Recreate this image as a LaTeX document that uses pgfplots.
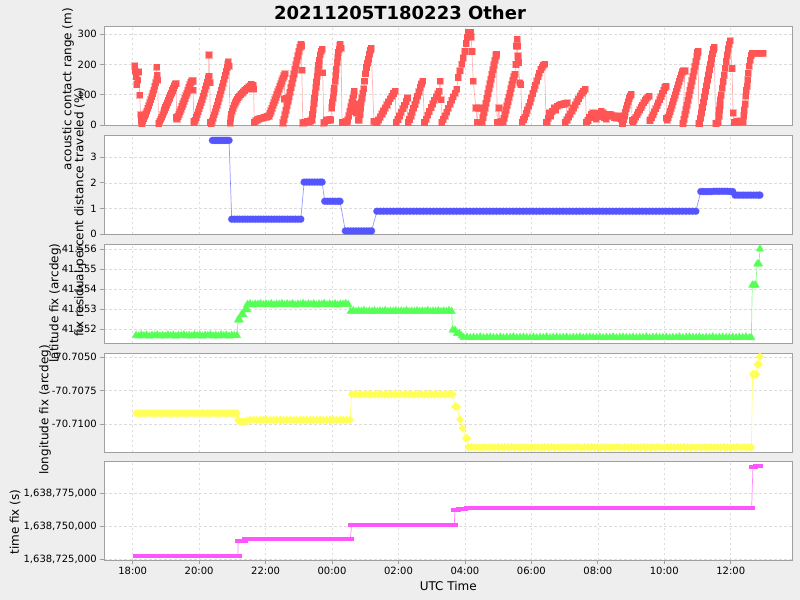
\documentclass[border=0pt]{standalone}
\usepackage{pgfplots}
\pgfplotsset{compat=1.18}
\usepackage{fontspec}
\setmainfont{DejaVu Sans}

\definecolor{bgc}{HTML}{EEEEEE}
\definecolor{framec}{HTML}{A0A0A0}
\definecolor{gridc}{HTML}{DCDCDC}
\definecolor{sred}{HTML}{FF5555}
\definecolor{sblue}{HTML}{5555FF}
\definecolor{sgreen}{HTML}{55FF55}
\definecolor{syellow}{HTML}{FFFF55}
\definecolor{smag}{HTML}{FF55FF}

% flat rectangle marker for the last series
\pgfdeclareplotmark{hrect}{\pgfpathrectangle{\pgfpoint{-3.5bp}{-2bp}}{\pgfpoint{7bp}{4bp}}\pgfusepathqfill}

\newcommand\ticksz{\fontsize{10bp}{12bp}\selectfont}
\newcommand\labsz{\fontsize{12bp}{14bp}\selectfont}

\pgfplotsset{
  panel/.style={
    scale only axis, width=688bp, height=98.5bp, anchor=north west,
    xmin=17.145, xmax=37.854,
    xtick={18,20,22,24,26,28,30,32,34,36},
    xticklabels={},
    xtick style={draw=none},
    ytick pos=left,
    tick align=outside,
    major tick length=4bp,
    axis line style={draw=framec, line width=0.8bp},
    ytick style={draw=framec, line width=0.8bp},
    grid=major,
    major grid style={draw=gridc, dash pattern=on 2.5bp off 2.5bp, line width=0.6bp},
    axis background/.style={fill=white},
    tick label style={font=\ticksz, text=black},
    label style={font=\labsz},
    every axis plot/.append style={line width=0.7bp},
  },
}

\begin{document}
\begin{tikzpicture}
\fill[bgc] (0,0) rectangle (800bp,-600bp);
\node[font=\bfseries\fontsize{18bp}{20bp}\selectfont, inner sep=0pt] at (400bp,-12.5bp) {20211205T180223 Other};

% acoustic contact range
\begin{axis}[panel, at={(104.3bp,-26.5bp)},
  ymin=0, ymax=326, ytick={0,100,200,300}, yticklabels={0,100,200,300},
  ylabel={acoustic contact range (m)},
  ylabel style={at={(axis description cs:-0.0528,0.365)}, anchor=center}]
\addplot[sred, draw opacity=0.45, mark=square*, mark size=3.1bp, mark options={draw=none, fill=sred}] coordinates {
(18.06,196) (18.08,178) (18.10,160) (18.12,134) (18.15,148) (18.18,176) (18.21,98) (18.24,34) (18.26,12)
(18.27,5) (18.30,13) (18.33,21) (18.36,29) (18.39,37) (18.42,46) (18.45,55) (18.48,64) (18.51,74) (18.54,84)
(18.57,94) (18.60,104) (18.63,116) (18.66,128) (18.69,140) (18.72,152) (18.72,192) (18.73,164) (18.75,148)
(18.78,5) (18.81,12) (18.84,19) (18.87,26) (18.90,34) (18.93,42) (18.96,50) (18.99,58) (19.02,66) (19.05,74)
(19.08,82) (19.11,90) (19.14,98) (19.17,106) (19.20,114) (19.23,122) (19.26,130) (19.29,137) (19.31,137) (19.32,25)
(19.33,20) (19.36,28) (19.39,36) (19.42,44) (19.45,52) (19.48,61) (19.51,70) (19.54,79) (19.57,88) (19.60,97)
(19.63,106) (19.66,115) (19.69,124) (19.72,133) (19.75,141) (19.78,146) (19.81,146) (19.82,116) (19.84,12)
(19.85,8) (19.88,16) (19.91,25) (19.94,34) (19.97,44) (20.00,54) (20.03,64) (20.06,74) (20.09,84) (20.12,95)
(20.15,106) (20.18,118) (20.21,130) (20.24,142) (20.27,154) (20.29,162) (20.29,232) (20.32,140) (20.34,8)
(20.36,5) (20.39,14) (20.42,24) (20.45,34) (20.48,44) (20.51,55) (20.54,66) (20.57,78) (20.60,90) (20.63,102)
(20.66,114) (20.69,126) (20.72,138) (20.75,151) (20.78,164) (20.81,177) (20.84,190) (20.86,202) (20.88,209) (20.90,195)
(20.93,7) (20.95,22) (20.97,35) (20.99,46) (21.02,56) (21.05,65) (21.08,73) (21.11,80) (21.14,86) (21.17,91)
(21.21,96) (21.25,101) (21.29,106) (21.33,110) (21.37,114) (21.41,118) (21.45,122) (21.49,126) (21.53,130) (21.57,134)
(21.60,120) (21.62,132) (21.64,118)
(21.66,8) (21.70,14) (21.74,17) (21.78,19) (21.82,21) (21.86,22) (21.90,23) (21.94,25) (21.98,26) (22.02,27) (22.06,28)
(22.10,30) (22.13,38) (22.16,47) (22.19,56) (22.22,65) (22.25,74) (22.28,83) (22.31,92) (22.34,101) (22.37,110)
(22.40,119) (22.43,128) (22.46,137) (22.49,146) (22.52,155) (22.55,163) (22.58,170) (22.56,86) (22.61,88) (22.67,84)
(22.52,7) (22.55,20) (22.58,34) (22.61,49) (22.64,64) (22.67,79) (22.70,94) (22.73,109) (22.76,124) (22.79,139)
(22.82,154) (22.85,169) (22.88,184) (22.91,199) (22.94,214) (22.97,229) (23.00,244) (23.03,258) (23.06,268) (23.08,262)
(23.09,182) (23.12,7)
(23.15,8) (23.20,10) (23.25,12) (23.30,10) (23.35,14)
(23.39,17) (23.41,35) (23.43,53) (23.45,71) (23.47,89) (23.49,107) (23.51,125) (23.53,143) (23.55,161) (23.57,179)
(23.59,197) (23.61,215) (23.64,233) (23.67,245) (23.70,251) (23.72,173) (23.75,7)
(23.78,10) (23.83,17) (23.88,15) (23.93,20) (23.96,17)
(23.99,57) (24.01,75) (24.03,90) (24.05,110) (24.07,123) (24.09,145) (24.11,165) (24.13,185) (24.15,207) (24.17,225)
(24.19,240) (24.21,251) (24.23,262) (24.25,268) (24.27,255) (24.30,8)
(24.33,8) (24.37,10) (24.41,12) (24.45,10)
(24.47,17) (24.50,30) (24.53,45) (24.56,60) (24.59,75) (24.62,88) (24.65,100) (24.67,112) (24.70,56) (24.73,40) (24.76,70) (24.79,17)
(24.82,17) (24.84,35) (24.86,55) (24.88,75) (24.90,90) (24.92,105) (24.95,120) (24.98,145) (25.01,170) (25.04,190)
(25.07,205) (25.10,218) (25.13,235) (25.16,248) (25.18,253) (25.26,12)
(25.29,10) (25.33,12)
(25.35,8) (25.40,17) (25.45,27) (25.50,37) (25.55,47) (25.60,57) (25.65,67) (25.70,77) (25.75,87) (25.80,96) (25.85,104) (25.90,112)
(25.93,8) (25.98,18) (26.03,30) (26.08,42) (26.13,54) (26.18,66) (26.23,78) (26.27,90)
(26.29,8) (26.33,18) (26.37,30) (26.41,42) (26.45,55) (26.49,68) (26.53,82) (26.57,96) (26.61,110) (26.65,124) (26.69,136) (26.73,145)
(26.78,8) (26.83,20) (26.88,32) (26.93,45) (26.98,58) (27.03,70) (27.08,82) (27.13,93) (27.18,103) (27.22,112) (27.25,145) (27.28,84)
(27.30,8) (27.35,18) (27.40,30) (27.45,43) (27.50,56) (27.55,69) (27.60,82) (27.65,94) (27.70,106) (27.75,118)
(27.80,157) (27.85,180) (27.90,201) (27.95,222) (28.00,243) (28.04,270) (28.08,290) (28.11,307) (28.14,300) (28.17,307)
(28.19,292) (28.21,243) (28.25,145) (28.33,57) (28.37,10) (28.41,57) (28.46,55) (28.49,10)
(28.51,10) (28.54,25) (28.57,41) (28.60,57) (28.63,72) (28.66,88) (28.69,104) (28.72,120) (28.75,136) (28.78,151)
(28.81,167) (28.84,183) (28.87,199) (28.90,214) (28.93,229) (28.95,234) (28.97,10)
(28.99,10) (29.02,57) (29.05,10) (29.10,12)
(29.14,10) (29.17,23) (29.20,36) (29.23,50) (29.26,64) (29.29,78) (29.32,92) (29.35,106) (29.38,120) (29.41,134)
(29.44,148) (29.47,160) (29.50,168) (29.53,200) (29.55,262) (29.57,284) (29.58,262) (29.59,229) (29.61,207) (29.65,140) (29.68,134)
(29.72,10) (29.76,18) (29.80,26) (29.84,38) (29.88,50) (29.92,62) (29.96,76) (30.00,90) (30.04,104) (30.08,118)
(30.12,132) (30.16,146) (30.20,160) (30.24,172) (30.28,184) (30.32,192) (30.36,198) (30.40,201) (30.44,10)
(30.47,10) (30.50,23) (30.53,40) (30.58,30) (30.63,45) (30.68,57) (30.73,50) (30.78,62) (30.83,65) (30.88,68)
(30.93,68) (30.98,70) (31.03,72) (31.08,73)
(31.02,8) (31.07,17) (31.12,27) (31.17,37) (31.22,47) (31.27,57) (31.32,67) (31.37,77) (31.42,87) (31.47,97)
(31.52,105) (31.57,112) (31.62,118) (31.66,10)
(31.70,15) (31.75,25) (31.80,35) (31.85,40) (31.90,30) (31.95,20) (32.00,28) (32.05,38) (32.10,45) (32.15,40)
(32.20,25) (32.25,20) (32.30,30) (32.35,35) (32.40,34) (32.45,30) (32.50,25) (32.55,23) (32.60,30) (32.65,23) (32.70,20)
(32.74,5) (32.77,18) (32.80,30) (32.83,42) (32.86,54) (32.89,66) (32.92,77) (32.95,88) (32.98,96) (33.01,101) (33.03,15)
(33.06,10) (33.10,18) (33.14,26) (33.18,34) (33.22,42) (33.26,50) (33.30,58) (33.34,66) (33.38,74) (33.42,81)
(33.46,87) (33.50,92) (33.54,96) (33.56,15)
(33.58,17) (33.62,25) (33.66,34) (33.70,44) (33.74,54) (33.78,64) (33.82,74) (33.86,84) (33.90,94) (33.94,104)
(33.98,114) (34.02,124) (34.05,129) (34.07,23)
(34.09,17) (34.12,25) (34.15,34) (34.18,45) (34.21,56) (34.24,67) (34.27,78) (34.30,89) (34.33,100) (34.36,111)
(34.39,122) (34.42,133) (34.45,144) (34.48,155) (34.51,166) (34.54,176) (34.58,179) (34.62,179)
(34.56,5) (34.59,20) (34.62,35) (34.65,50) (34.68,66) (34.71,82) (34.74,98) (34.77,114) (34.80,130) (34.83,146)
(34.86,162) (34.89,178) (34.92,194) (34.95,210) (34.98,226) (35.00,240) (35.02,245) (35.04,5)
(35.06,5) (35.09,22) (35.12,40) (35.15,58) (35.18,76) (35.21,94) (35.24,112) (35.27,130) (35.30,148) (35.33,166)
(35.36,184) (35.39,202) (35.42,220) (35.45,236) (35.48,250) (35.50,257) (35.55,5)
(35.62,10) (35.64,30) (35.66,50) (35.67,65) (35.68,84) (35.71,100) (35.74,122) (35.77,144) (35.80,166) (35.83,188)
(35.86,210) (35.89,232) (35.92,252) (35.95,268) (35.98,279) (36.04,187) (36.07,40) (36.10,8)
(36.13,10) (36.18,12) (36.23,10) (36.28,14) (36.33,12)
(36.37,10) (36.39,30) (36.41,50) (36.43,70) (36.45,96) (36.47,115) (36.49,129) (36.51,150) (36.53,172) (36.55,195)
(36.58,215) (36.61,230) (36.64,238) (36.70,238) (36.76,238) (36.82,238) (36.88,238) (36.94,238) (36.97,238)
};
\end{axis}

% percent distance traveled
\begin{axis}[panel, at={(104.3bp,-135.5bp)},
  ymin=0, ymax=3.85, ytick={0,1,2,3}, yticklabels={0,1,2,3},
  ylabel={fix residual percent distance traveled (\%)},
  ylabel style={at={(axis description cs:-0.0353,0.223)}, anchor=center}]
\addplot[sblue, draw opacity=0.6, mark=*, mark size=3.4bp, mark options={draw=none, fill=sblue}] coordinates {
(20.40,3.66) (20.45,3.66) (20.50,3.66) (20.55,3.66) (20.60,3.66) (20.65,3.66) (20.70,3.66) (20.75,3.66) (20.80,3.66) (20.85,3.66) (20.90,3.66)
(20.98,0.58) (21.06,0.58) (21.14,0.58) (21.22,0.58) (21.30,0.58) (21.38,0.58) (21.46,0.58) (21.54,0.58) (21.62,0.58)
(21.70,0.58) (21.78,0.58) (21.86,0.58) (21.94,0.58) (22.02,0.58) (22.10,0.58) (22.18,0.58) (22.26,0.58) (22.34,0.58)
(22.42,0.58) (22.50,0.58) (22.58,0.58) (22.66,0.58) (22.74,0.58) (22.82,0.58) (22.90,0.58) (22.98,0.58) (23.06,0.58)
(23.16,2.03) (23.24,2.03) (23.32,2.03) (23.40,2.03) (23.48,2.03) (23.56,2.03) (23.64,2.03) (23.70,2.03)
(23.78,1.28) (23.86,1.28) (23.94,1.28) (24.02,1.28) (24.10,1.28) (24.18,1.28) (24.24,1.28)
(24.40,0.12) (24.48,0.12) (24.56,0.12) (24.64,0.12) (24.72,0.12) (24.80,0.12) (24.88,0.12) (24.96,0.12) (25.04,0.12) (25.12,0.12) (25.19,0.12)
(25.35,0.89) (25.45,0.89) (25.55,0.89) (25.65,0.89) (25.75,0.89) (25.85,0.89) (25.95,0.89) (26.05,0.89) (26.15,0.89) (26.25,0.89)
(26.35,0.89) (26.45,0.89) (26.55,0.89) (26.65,0.89) (26.75,0.89) (26.85,0.89) (26.95,0.89) (27.05,0.89) (27.15,0.89) (27.25,0.89)
(27.35,0.89) (27.45,0.89) (27.55,0.89) (27.65,0.89) (27.75,0.89) (27.85,0.89) (27.95,0.89) (28.05,0.89) (28.15,0.89) (28.25,0.89)
(28.35,0.89) (28.45,0.89) (28.55,0.89) (28.65,0.89) (28.75,0.89) (28.85,0.89) (28.95,0.89) (29.05,0.89) (29.15,0.89) (29.25,0.89)
(29.35,0.89) (29.45,0.89) (29.55,0.89) (29.65,0.89) (29.75,0.89) (29.85,0.89) (29.95,0.89) (30.05,0.89) (30.15,0.89) (30.25,0.89)
(30.35,0.89) (30.45,0.89) (30.55,0.89) (30.65,0.89) (30.75,0.89) (30.85,0.89) (30.95,0.89) (31.05,0.89) (31.15,0.89) (31.25,0.89)
(31.35,0.89) (31.45,0.89) (31.55,0.89) (31.65,0.89) (31.75,0.89) (31.85,0.89) (31.95,0.89) (32.05,0.89) (32.15,0.89) (32.25,0.89)
(32.35,0.89) (32.45,0.89) (32.55,0.89) (32.65,0.89) (32.75,0.89) (32.85,0.89) (32.95,0.89) (33.05,0.89) (33.15,0.89) (33.25,0.89)
(33.35,0.89) (33.45,0.89) (33.55,0.89) (33.65,0.89) (33.75,0.89) (33.85,0.89) (33.95,0.89) (34.05,0.89) (34.15,0.89) (34.25,0.89)
(34.35,0.89) (34.45,0.89) (34.55,0.89) (34.65,0.89) (34.75,0.89) (34.85,0.89) (34.95,0.89)
(35.10,1.66) (35.18,1.66) (35.26,1.66) (35.34,1.66) (35.42,1.66) (35.50,1.67) (35.58,1.67) (35.66,1.67) (35.74,1.67)
(35.82,1.67) (35.90,1.67) (35.98,1.66) (36.06,1.66)
(36.13,1.52) (36.21,1.52) (36.29,1.52) (36.37,1.52) (36.45,1.52) (36.53,1.52) (36.61,1.52) (36.69,1.52) (36.77,1.52) (36.85,1.52) (36.88,1.52)
};
\end{axis}

% latitude fix, y = (latitude - 41.55) * 1000
\begin{axis}[panel, at={(104.3bp,-244.5bp)},
  ymin=1.315, ymax=6.24, ytick={2,3,4,5,6}, yticklabels={41.552,41.553,41.554,41.555,41.556},
  ylabel={latitude fix (arcdeg)},
  ylabel style={at={(axis description cs:-0.0717,0.406)}, anchor=center}]
\addplot[sgreen, draw opacity=0.7, mark=triangle*, mark size=4.2bp, mark options={draw=none, fill=sgreen}] coordinates {
(18.10,1.70) (18.18,1.67) (18.26,1.72) (18.34,1.68) (18.42,1.71) (18.50,1.66) (18.58,1.70) (18.66,1.69) (18.74,1.72) (18.82,1.67)
(18.90,1.70) (18.98,1.67) (19.06,1.72) (19.14,1.68) (19.22,1.71) (19.30,1.66) (19.38,1.70) (19.46,1.69) (19.54,1.72) (19.62,1.67)
(19.70,1.70) (19.78,1.67) (19.86,1.72) (19.94,1.68) (20.02,1.71) (20.10,1.66) (20.18,1.70) (20.26,1.69) (20.34,1.72) (20.42,1.67)
(20.50,1.70) (20.58,1.67) (20.66,1.72) (20.74,1.68) (20.82,1.71) (20.90,1.66) (20.98,1.70) (21.06,1.69) (21.14,1.69)
(21.17,2.47) (21.22,2.47) (21.27,2.73) (21.33,2.73) (21.38,2.98) (21.45,2.98)
(21.45,3.24) (21.53,3.28) (21.61,3.22) (21.69,3.26) (21.77,3.25) (21.85,3.29) (21.93,3.23) (22.01,3.27) (22.09,3.24) (22.17,3.28)
(22.25,3.22) (22.33,3.26) (22.41,3.25) (22.49,3.29) (22.57,3.23) (22.65,3.27) (22.73,3.24) (22.81,3.28) (22.89,3.22) (22.97,3.26)
(23.05,3.25) (23.13,3.29) (23.21,3.23) (23.29,3.27) (23.37,3.24) (23.45,3.28) (23.53,3.22) (23.61,3.26) (23.69,3.25) (23.77,3.29)
(23.85,3.23) (23.93,3.27) (24.01,3.24) (24.09,3.28) (24.17,3.22) (24.25,3.26) (24.33,3.25) (24.41,3.29) (24.49,3.24)
(24.56,2.90) (24.64,2.93) (24.72,2.89) (24.80,2.92) (24.88,2.90) (24.96,2.94) (25.04,2.89) (25.12,2.91) (25.20,2.90) (25.28,2.93)
(25.36,2.89) (25.44,2.92) (25.52,2.90) (25.60,2.94) (25.68,2.89) (25.76,2.91) (25.84,2.90) (25.92,2.93) (26.00,2.89) (26.08,2.92)
(26.16,2.90) (26.24,2.94) (26.32,2.89) (26.40,2.91) (26.48,2.90) (26.56,2.93) (26.64,2.89) (26.72,2.92) (26.80,2.90) (26.88,2.94)
(26.96,2.89) (27.04,2.91) (27.12,2.90) (27.20,2.93) (27.28,2.89) (27.36,2.92) (27.44,2.90) (27.52,2.94) (27.60,2.90)
(27.63,1.96) (27.70,1.96) (27.76,1.80) (27.83,1.80) (27.90,1.67)
(27.96,1.59) (28.06,1.61) (28.16,1.58) (28.26,1.60) (28.36,1.59) (28.46,1.62) (28.56,1.58) (28.66,1.60) (28.76,1.61) (28.86,1.59)
(28.96,1.59) (29.06,1.61) (29.16,1.58) (29.26,1.60) (29.36,1.59) (29.46,1.62) (29.56,1.58) (29.66,1.60) (29.76,1.61) (29.86,1.59)
(29.96,1.59) (30.06,1.61) (30.16,1.58) (30.26,1.60) (30.36,1.59) (30.46,1.62) (30.56,1.58) (30.66,1.60) (30.76,1.61) (30.86,1.59)
(30.96,1.59) (31.06,1.61) (31.16,1.58) (31.26,1.60) (31.36,1.59) (31.46,1.62) (31.56,1.58) (31.66,1.60) (31.76,1.61) (31.86,1.59)
(31.96,1.59) (32.06,1.61) (32.16,1.58) (32.26,1.60) (32.36,1.59) (32.46,1.62) (32.56,1.58) (32.66,1.60) (32.76,1.61) (32.86,1.59)
(32.96,1.59) (33.06,1.61) (33.16,1.58) (33.26,1.60) (33.36,1.59) (33.46,1.62) (33.56,1.58) (33.66,1.60) (33.76,1.61) (33.86,1.59)
(33.96,1.59) (34.06,1.61) (34.16,1.58) (34.26,1.60) (34.36,1.59) (34.46,1.62) (34.56,1.58) (34.66,1.60) (34.76,1.61) (34.86,1.59)
(34.96,1.59) (35.06,1.61) (35.16,1.58) (35.26,1.60) (35.36,1.59) (35.46,1.62) (35.56,1.58) (35.66,1.60) (35.76,1.61) (35.86,1.59)
(35.96,1.59) (36.06,1.61) (36.16,1.58) (36.26,1.60) (36.36,1.59) (36.46,1.62) (36.56,1.58) (36.62,1.59)
(36.65,4.21) (36.70,4.21) (36.75,4.21) (36.80,5.27) (36.85,5.27) (36.88,6.02)
};
\end{axis}

% longitude fix, y = (longitude + 70.71) * 1000
\begin{axis}[panel, at={(104.3bp,-353.5bp)},
  ymin=-2.10, ymax=5.285, ytick={0,2.5,5}, yticklabels={-70.7100,-70.7075,-70.7050},
  ylabel={longitude fix (arcdeg)},
  ylabel style={at={(axis description cs:-0.0862,0.426)}, anchor=center}]
\addplot[syellow, draw opacity=0.8, mark=diamond*, mark size=3.8bp, mark options={draw=none, fill=syellow, xscale=1.2}] coordinates {
(18.10,0.80) (18.18,0.82) (18.26,0.79) (18.34,0.81) (18.42,0.80) (18.50,0.82) (18.58,0.79) (18.66,0.81) (18.74,0.80) (18.82,0.82)
(18.90,0.79) (18.98,0.81) (19.06,0.80) (19.14,0.82) (19.22,0.79) (19.30,0.81) (19.38,0.80) (19.46,0.82) (19.54,0.79) (19.62,0.81)
(19.70,0.80) (19.78,0.82) (19.86,0.79) (19.94,0.81) (20.02,0.80) (20.10,0.82) (20.18,0.79) (20.26,0.81) (20.34,0.80) (20.42,0.82)
(20.50,0.79) (20.58,0.81) (20.66,0.80) (20.74,0.82) (20.82,0.79) (20.90,0.81) (20.98,0.80) (21.06,0.82) (21.14,0.80)
(21.17,0.30) (21.22,0.17) (21.30,0.17) (21.38,0.17) (21.46,0.25)
(21.54,0.30) (21.64,0.31) (21.74,0.29) (21.84,0.30) (21.94,0.31) (22.04,0.30) (22.14,0.29) (22.24,0.30) (22.34,0.31) (22.44,0.30)
(22.54,0.29) (22.64,0.30) (22.74,0.31) (22.84,0.30) (22.94,0.29) (23.04,0.30) (23.14,0.31) (23.24,0.30) (23.34,0.29) (23.44,0.30)
(23.54,0.31) (23.64,0.30) (23.74,0.29) (23.84,0.30) (23.94,0.31) (24.04,0.30) (24.14,0.29) (24.24,0.30) (24.34,0.31) (24.44,0.30) (24.54,0.30)
(24.59,2.23) (24.69,2.24) (24.79,2.22) (24.89,2.23) (24.99,2.24) (25.09,2.23) (25.19,2.22) (25.29,2.23) (25.39,2.24) (25.49,2.23)
(25.59,2.22) (25.69,2.23) (25.79,2.24) (25.89,2.23) (25.99,2.22) (26.09,2.23) (26.19,2.24) (26.29,2.23) (26.39,2.22) (26.49,2.23)
(26.59,2.24) (26.69,2.23) (26.79,2.22) (26.89,2.23) (26.99,2.24) (27.09,2.23) (27.19,2.22) (27.29,2.23) (27.39,2.24) (27.49,2.23)
(27.59,2.23) (27.63,2.23)
(27.70,1.30) (27.76,1.30) (27.85,0.35) (27.93,-0.32) (28.03,-1.07) (28.07,-1.07)
(28.10,-1.75) (28.20,-1.73) (28.30,-1.76) (28.40,-1.74) (28.50,-1.75) (28.60,-1.73) (28.70,-1.76) (28.80,-1.74) (28.90,-1.75) (29.00,-1.73)
(29.10,-1.76) (29.20,-1.74) (29.30,-1.75) (29.40,-1.73) (29.50,-1.76) (29.60,-1.74) (29.70,-1.75) (29.80,-1.73) (29.90,-1.76) (30.00,-1.74)
(30.10,-1.75) (30.20,-1.73) (30.30,-1.76) (30.40,-1.74) (30.50,-1.75) (30.60,-1.73) (30.70,-1.76) (30.80,-1.74) (30.90,-1.75) (31.00,-1.73)
(31.10,-1.76) (31.20,-1.74) (31.30,-1.75) (31.40,-1.73) (31.50,-1.76) (31.60,-1.74) (31.70,-1.75) (31.80,-1.73) (31.90,-1.76) (32.00,-1.74)
(32.10,-1.75) (32.20,-1.73) (32.30,-1.76) (32.40,-1.74) (32.50,-1.75) (32.60,-1.73) (32.70,-1.76) (32.80,-1.74) (32.90,-1.75) (33.00,-1.73)
(33.10,-1.76) (33.20,-1.74) (33.30,-1.75) (33.40,-1.73) (33.50,-1.76) (33.60,-1.74) (33.70,-1.75) (33.80,-1.73) (33.90,-1.76) (34.00,-1.74)
(34.10,-1.75) (34.20,-1.73) (34.30,-1.76) (34.40,-1.74) (34.50,-1.75) (34.60,-1.73) (34.70,-1.76) (34.80,-1.74) (34.90,-1.75) (35.00,-1.73)
(35.10,-1.76) (35.20,-1.74) (35.30,-1.75) (35.40,-1.73) (35.50,-1.76) (35.60,-1.74) (35.70,-1.75) (35.80,-1.73) (35.90,-1.76) (36.00,-1.74)
(36.10,-1.75) (36.20,-1.73) (36.30,-1.76) (36.40,-1.74) (36.50,-1.75) (36.60,-1.74) (36.62,-1.75)
(36.66,3.72) (36.72,3.72) (36.77,3.72) (36.80,4.47) (36.84,4.47) (36.88,5.05)
};
\end{axis}

% time fix, y = (time - 1638725000) / 1000
\begin{axis}[panel, at={(104.3bp,-461.5bp)},
  ymin=-0.53, ymax=74.1, ytick={0,25,50}, yticklabels={{1,638,725,000},{1,638,750,000},{1,638,775,000}},
  xticklabels={18:00,20:00,22:00,00:00,02:00,04:00,06:00,08:00,10:00,12:00},
  xtick style={draw=framec, line width=0.8bp}, xtick pos=bottom,
  xlabel={UTC Time},
  xlabel style={at={(axis description cs:0.5,-0.264)}, anchor=center},
  ylabel={time fix (s)},
  ylabel style={at={(axis description cs:-0.1298,0.386)}, anchor=center}]
\addplot[smag, draw opacity=0.7, mark=hrect, mark options={draw=none, fill=smag}] coordinates {
(18.10,2.4) (18.25,2.4) (18.40,2.4) (18.55,2.4) (18.70,2.4) (18.85,2.4) (19.00,2.4) (19.15,2.4) (19.30,2.4) (19.45,2.4)
(19.60,2.4) (19.75,2.4) (19.90,2.4) (20.05,2.4) (20.20,2.4) (20.35,2.4) (20.50,2.4) (20.65,2.4) (20.80,2.4) (20.95,2.4)
(21.10,2.4) (21.17,2.4)
(21.17,14.1) (21.27,14.1) (21.35,14.1)
(21.40,15.2) (21.55,15.2) (21.70,15.2) (21.85,15.2) (22.00,15.2) (22.15,15.2) (22.30,15.2) (22.45,15.2) (22.60,15.2) (22.75,15.2)
(22.90,15.2) (23.05,15.2) (23.20,15.2) (23.35,15.2) (23.50,15.2) (23.65,15.2) (23.80,15.2) (23.95,15.2) (24.10,15.2) (24.25,15.2)
(24.40,15.2) (24.55,15.2)
(24.59,26.2) (24.74,26.2) (24.89,26.2) (25.04,26.2) (25.19,26.2) (25.34,26.2) (25.49,26.2) (25.64,26.2) (25.79,26.2) (25.94,26.2)
(26.09,26.2) (26.24,26.2) (26.39,26.2) (26.54,26.2) (26.69,26.2) (26.84,26.2) (26.99,26.2) (27.14,26.2) (27.29,26.2) (27.44,26.2)
(27.59,26.2) (27.68,26.2)
(27.70,37.3) (27.78,37.3) (27.84,38.3) (27.92,38.3) (28.00,38.3)
(28.08,39.1) (28.23,39.1) (28.38,39.1) (28.53,39.1) (28.68,39.1) (28.83,39.1) (28.98,39.1) (29.13,39.1) (29.28,39.1) (29.43,39.1)
(29.58,39.1) (29.73,39.1) (29.88,39.1) (30.03,39.1) (30.18,39.1) (30.33,39.1) (30.48,39.1) (30.63,39.1) (30.78,39.1) (30.93,39.1)
(31.08,39.1) (31.23,39.1) (31.38,39.1) (31.53,39.1) (31.68,39.1) (31.83,39.1) (31.98,39.1) (32.13,39.1) (32.28,39.1) (32.43,39.1)
(32.58,39.1) (32.73,39.1) (32.88,39.1) (33.03,39.1) (33.18,39.1) (33.33,39.1) (33.48,39.1) (33.63,39.1) (33.78,39.1) (33.93,39.1)
(34.08,39.1) (34.23,39.1) (34.38,39.1) (34.53,39.1) (34.68,39.1) (34.83,39.1) (34.98,39.1) (35.13,39.1) (35.28,39.1) (35.43,39.1)
(35.58,39.1) (35.73,39.1) (35.88,39.1) (36.03,39.1) (36.18,39.1) (36.33,39.1) (36.48,39.1) (36.63,39.1)
(36.67,70.2) (36.73,70.2) (36.78,70.7) (36.84,70.7) (36.88,70.7)
};
\end{axis}
\end{tikzpicture}
\end{document}
